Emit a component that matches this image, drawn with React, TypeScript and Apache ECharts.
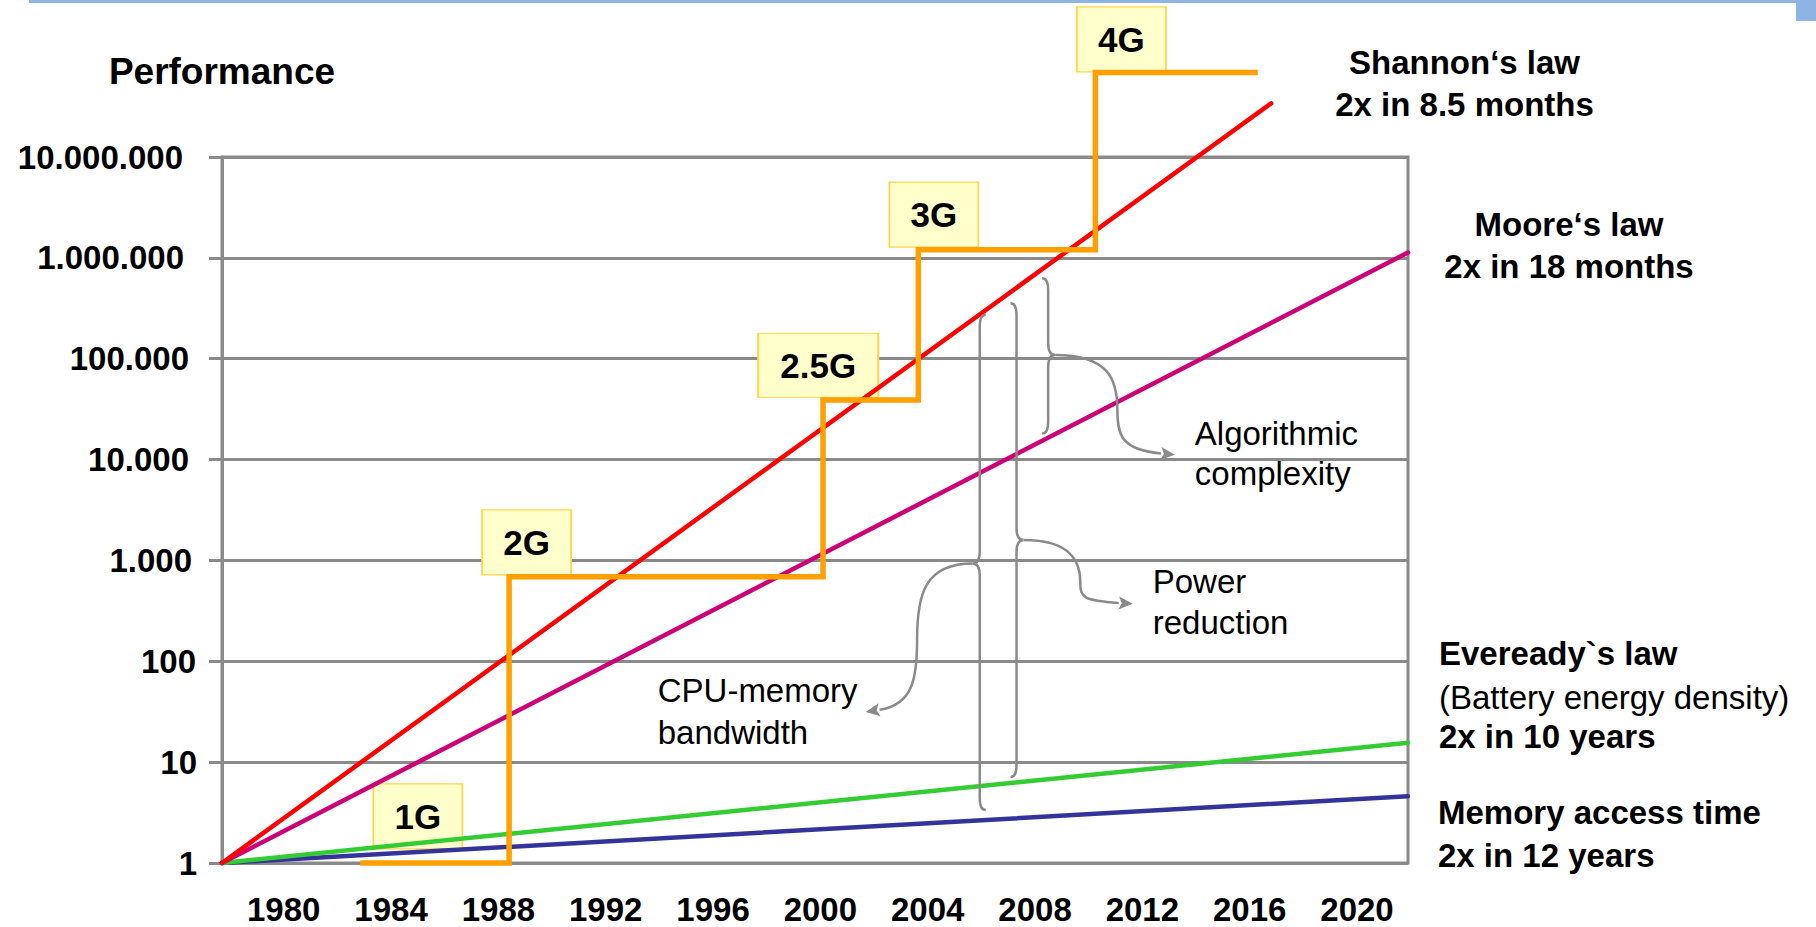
import React, { useEffect, useRef } from 'react';
import * as echarts from 'echarts';

const FONT = '"Liberation Sans", Arial, Helvetica, sans-serif';
const GRID_GRAY = '#8a8a8a';
const NOTE_GRAY = '#8a8a8a';

// ---- axes ----
const yearMin = 1977.7;
const yearMax = 2021.9;
const xTickValues = [1980, 1984, 1988, 1992, 1996, 2000, 2004, 2008, 2012, 2016, 2020];
const xTickLabels = ['1980', '1984', '1988', '1992', '1996', '2000', '2004', '2008', '2012', '2016', '2020'];
const yMin = 1;
const yMax = 10000000;
const yTickLabels = ['1', '10', '100', '1.000', '10.000', '100.000', '1.000.000', '10.000.000'];

// ---- growth laws (start / end points, log scale) ----
const shannonYears = [1977.7, 2016.8];
const shannonValues = [1, 34000000];
const mooreYears = [1977.7, 2021.9];
const mooreValues = [1, 1130000];
const evereadyYears = [1977.7, 2021.9];
const evereadyValues = [1, 15.6];
const memoryYears = [1977.7, 2021.9];
const memoryValues = [1, 4.6];

// ---- wireless generations (step line) ----
const genStepYears = [1982.85, 1988.4, 2000.1, 2003.65, 2010.25, 2016.3];
const genStepValues = [1, 690, 39000, 1200000, 69000000, 69000000];
const genNames = ['1G', '2G', '2.5G', '3G', '4G'];
const genLabelYears = [1985.0, 1989.05, 1999.92, 2004.23, 2011.22];
const genLabelValues = [2.9, 1510, 86000, 2680000, 147000000];

// ---- braces & arrows (annotations) ----
const braceYears = [2005.94, 2007.31, 2008.49];
const braceTopValues = [273000, 354000, 626000];
const braceTipValues = [931, 1590, 109000];
const braceBottomValues = [3.36, 7.13, 18150];
const braceSides = [-1, 1, 1];
const arrowEndYears = [2001.69, 2011.64, 2013.21];
const arrowEndValues = [31.5, 371, 11170];
const annotationLines = [
  ['CPU-memory', 'bandwidth'],
  ['Power', 'reduction'],
  ['Algorithmic', 'complexity'],
];

// layout constants (pixels)
const yLabelShift = [0, 0, 1, 5, 8, 8, 13, 14];
const arrowMidFracY = [0.51, 0.66, 0.55];
const annTextDx = [-208, 20, 20];
const annTextDy = [
  [-21, 21],
  [-22, 18.6],
  [-21, 18.6],
];

const lawLabels = [
  { lines: ['Shannon\u2018s law', '2x in 8.5 months'], weights: ['bold', 'bold'], x: 1464.5, ys: [62.5, 104], align: 'center' },
  { lines: ['Moore\u2018s law', '2x in 18 months'], weights: ['bold', 'bold'], x: 1569, ys: [224.6, 266.3], align: 'center' },
  {
    lines: ['Eveready`s law', '(Battery energy density)', '2x in 10 years'],
    weights: ['bold', 'normal', 'bold'],
    x: 1439,
    ys: [653, 697, 736],
    align: 'left',
  },
  { lines: ['Memory access time', '2x in 12 years'], weights: ['bold', 'bold'], x: 1438, ys: [812, 855], align: 'left' },
];

const zip = (xs: number[], ys: number[]) => xs.map((x, i) => [x, ys[i]]);

function lawSeries(name: string, xs: number[], ys: number[], color: string, width: number) {
  return {
    name,
    type: 'line',
    data: zip(xs, ys),
    symbol: 'none',
    showSymbol: false,
    clip: false,
    silent: true,
    lineStyle: { color, width, cap: 'round' },
  };
}

function textEl(text: string, x: number, y: number, size: number, weight: string, align: string) {
  return {
    type: 'text',
    x,
    y,
    z: 100,
    silent: true,
    style: {
      text,
      fontSize: size,
      fontWeight: weight,
      fontFamily: FONT,
      fill: '#000',
      align,
      textAlign: align,
      verticalAlign: 'middle',
      textVerticalAlign: 'middle',
    },
  };
}

export default function App() {
  const ref = useRef<HTMLDivElement>(null);

  useEffect(() => {
    if (!ref.current) return;
    const chart = echarts.init(ref.current, undefined, { renderer: 'svg' });

    const rich: Record<string, any> = {};
    yLabelShift.forEach((p, i) => {
      rich['t' + i] = { padding: [0, p, 0, 0], fontSize: 33, fontWeight: 'bold', fontFamily: FONT, color: '#000' };
    });

    const option: any = {
      animation: false,
      backgroundColor: '#ffffff',
      grid: {
        left: 222,
        right: 408,
        top: 157,
        bottom: 64,
        show: true,
        borderColor: GRID_GRAY,
        borderWidth: 3,
        containLabel: false,
        outerBoundsMode: 'none',
      },
      xAxis: {
        type: 'value',
        min: yearMin,
        max: yearMax,
        axisLine: { show: false },
        axisTick: { show: false },
        splitLine: { show: false },
        axisLabel: {
          customValues: xTickValues,
          formatter: (v: number) => {
            const i = xTickValues.indexOf(Math.round(v));
            return i >= 0 ? xTickLabels[i] : '';
          },
          margin: 30,
          fontSize: 33,
          fontWeight: 'bold',
          fontFamily: FONT,
          color: '#000',
        },
      },
      yAxis: {
        type: 'log',
        logBase: 10,
        min: yMin,
        max: yMax,
        splitNumber: 7,
        name: 'Performance',
        nameLocation: 'end',
        nameGap: 86,
        nameTextStyle: {
          fontSize: 37,
          fontWeight: 'bold',
          fontFamily: FONT,
          color: '#000',
          align: 'center',
          verticalAlign: 'middle',
        },
        axisLine: { show: true, lineStyle: { color: GRID_GRAY, width: 3 } },
        axisTick: { show: true, length: 13, lineStyle: { color: GRID_GRAY, width: 3 } },
        minorTick: { show: false },
        splitLine: { show: true, lineStyle: { color: GRID_GRAY, width: 3 } },
        axisLabel: {
          margin: 25,
          fontSize: 33,
          fontWeight: 'bold',
          fontFamily: FONT,
          color: '#000',
          formatter: (v: number) => {
            const i = Math.round(Math.log10(v));
            return '{t' + i + '|' + yTickLabels[i] + '}';
          },
          rich,
        },
      },
      series: [
        lawSeries('Memory access time', memoryYears, memoryValues, '#333399', 4.5),
        lawSeries('Eveready`s law', evereadyYears, evereadyValues, '#33CC33', 4.5),
        lawSeries('Moore\u2018s law', mooreYears, mooreValues, '#CC0077', 4.5),
        lawSeries('Shannon\u2018s law', shannonYears, shannonValues, '#FF0000', 4.5),
        {
          name: 'Generations',
          type: 'scatter',
          clip: false,
          silent: true,
          symbol: 'rect',
          symbolSize: (_v: any, p: any) => (genNames[p.dataIndex].length > 2 ? [120, 64] : [89, 65]),
          itemStyle: { color: '#FFFFCC', borderColor: '#FFD54A', borderWidth: 1.5, opacity: 1 },
          label: {
            show: true,
            position: 'inside',
            formatter: (p: any) => p.name,
            fontSize: 35,
            fontWeight: 'bold',
            fontFamily: FONT,
            color: '#000',
          },
          data: genNames.map((n, i) => ({ name: n, value: [genLabelYears[i], genLabelValues[i]] })),
        },
        {
          name: 'Wireless',
          type: 'line',
          step: 'end',
          data: zip(genStepYears, genStepValues),
          symbol: 'none',
          showSymbol: false,
          clip: false,
          silent: true,
          lineStyle: { color: '#FFA000', width: 5.5, join: 'miter', cap: 'butt' },
        },
      ],
    };

    chart.setOption(option);

    const px = (x: number, y: number) => chart.convertToPixel({ gridIndex: 0 } as any, [x, y]) as number[];
    const elements: any[] = [];

    // header bar
    elements.push({ type: 'rect', shape: { x: 29, y: 0, width: 1787, height: 3 }, style: { fill: '#8DB4E2' }, silent: true });
    elements.push({ type: 'rect', shape: { x: 1796, y: 0, width: 20, height: 21 }, style: { fill: '#8DB4E2' }, silent: true });

    braceYears.forEach((yr, i) => {
      const top = px(yr, braceTopValues[i]);
      const tip = px(yr, braceTipValues[i]);
      const bot = px(yr, braceBottomValues[i]);
      const X = top[0];
      const T = top[1];
      const M = tip[1];
      const B = bot[1];
      const d = braceSides[i];
      const c = 6;
      const tipOff = 7;
      const r = 12;
      const braceD =
        `M${X - c * d} ${T} Q${X} ${T} ${X} ${T + r} L${X} ${M - r} Q${X} ${M} ${X + tipOff * d} ${M} ` +
        `Q${X} ${M} ${X} ${M + r} L${X} ${B - r} Q${X} ${B} ${X - c * d} ${B}`;
      const braceName = 'noteBrace' + i;
      echarts.graphic.registerShape(braceName, echarts.graphic.extendPath(braceD, {}) as any);
      elements.push({
        type: braceName,
        z: 50,
        silent: true,
        style: { stroke: NOTE_GRAY, fill: 'none', lineWidth: 2.5 },
      });

      // arrow
      const S = [X + tipOff * d, M];
      const E = px(arrowEndYears[i], arrowEndValues[i]);
      const dx = E[0] - S[0];
      const dy = E[1] - S[1];
      const Mx = S[0] + 0.52 * dx;
      const My = S[1] + arrowMidFracY[i] * dy;
      const c1 = [S[0] + 0.45 * dx, S[1]];
      const c2 = [Mx, My - 0.3 * dy];
      const c3 = [Mx, My + 0.25 * dy];
      const c4 = [E[0] - 0.45 * dx, E[1] - 0.05 * dy];
      let ux = E[0] - c4[0];
      let uy = E[1] - c4[1];
      const len = Math.hypot(ux, uy) || 1;
      ux /= len;
      uy /= len;
      const head = 14;
      const hw = 6.5;
      const Eb = [E[0] - head * ux, E[1] - head * uy];
      const arrowD =
        `M${S[0]} ${S[1]} C${c1[0]} ${c1[1]} ${c2[0]} ${c2[1]} ${Mx} ${My} ` +
        `C${c3[0]} ${c3[1]} ${c4[0]} ${c4[1]} ${Eb[0]} ${Eb[1]}`;
      const arrowName = 'noteArrow' + i;
      echarts.graphic.registerShape(arrowName, echarts.graphic.extendPath(arrowD, {}) as any);
      elements.push({
        type: arrowName,
        z: 50,
        silent: true,
        style: { stroke: NOTE_GRAY, fill: 'none', lineWidth: 2.5 },
      });
      const nx = -uy;
      const ny = ux;
      elements.push({
        type: 'polygon',
        z: 50,
        silent: true,
        shape: {
          points: [
            [E[0], E[1]],
            [Eb[0] + hw * nx, Eb[1] + hw * ny],
            [Eb[0] + 3 * ux, Eb[1] + 3 * uy],
            [Eb[0] - hw * nx, Eb[1] - hw * ny],
          ],
        },
        style: { fill: NOTE_GRAY },
      });

      annotationLines[i].forEach((line, j) => {
        elements.push(textEl(line, E[0] + annTextDx[i], E[1] + annTextDy[i][j], 33, 'normal', 'left'));
      });
    });

    lawLabels.forEach((lab) => {
      lab.lines.forEach((line, j) => {
        elements.push(textEl(line, lab.x, lab.ys[j], 33, lab.weights[j], lab.align));
      });
    });

    chart.setOption({ graphic: { elements } });

    return () => {
      chart.dispose();
    };
  }, []);

  return (
    <div
      ref={ref}
      style={{ position: 'absolute', left: 0, top: 0, width: 1816, height: 927, background: '#ffffff' }}
    />
  );
}
